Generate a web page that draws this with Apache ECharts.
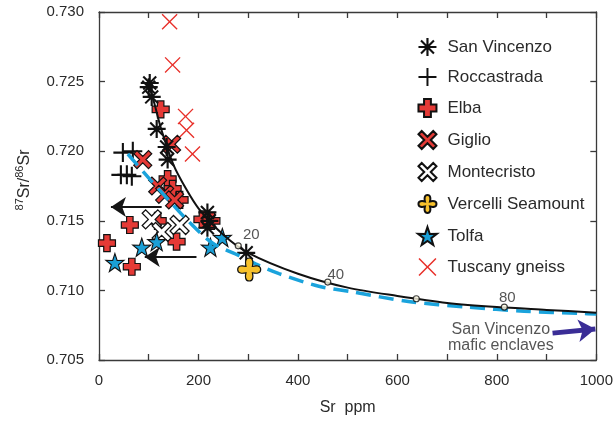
<!DOCTYPE html>
<html>
<head>
<meta charset="utf-8">
<script src="https://cdn.jsdelivr.net/npm/echarts@6/dist/echarts.min.js"></script>
<style>
  html, body { margin: 0; padding: 0; background: #fff; }
  #chart { width: 616px; height: 421px; }
</style>
</head>
<body>
<div id="chart"></div>
<script>
// Sr (ppm) vs 87Sr/86Sr for each suite
const sanVincenzo = [[102,0.7249],[100,0.7246],[106,0.7239],[116,0.7216],[136,0.7203],[138,0.7194],[218,0.7156],[222,0.7150],[218,0.7145],[296,0.7127]];
const roccastrada = [[48,0.7199],[68,0.7200],[44,0.7183],[56,0.7183],[66,0.7182]];
const elba = [[124,0.7230],[138,0.7180],[148,0.7173],[162,0.7165],[62,0.7147],[16,0.7134],[66,0.7117],[118,0.7150],[156,0.7135],[208,0.7151],[226,0.7150]];
const giglio = [[146,0.7205],[88,0.7194],[118,0.7175],[132,0.7169],[152,0.7165]];
const montecristo = [[106,0.7151],[126,0.7142],[162,0.7147]];
const vercelli = [[302,0.7115]];
const tolfa = [[86,0.7131],[116,0.7135],[32,0.7120],[224,0.7131],[248,0.7138]];
const tuscanyGneiss = [[142,0.7293],[148,0.7262],[174,0.7225],[176,0.7215],[188,0.7198]];

// mixing curves
const mixingCurve = [[98,0.7250],[110,0.7236],[125,0.7216],[150,0.7190],[175,0.7173],[200,0.7159],[250,0.7140],[300,0.7127],[400,0.7112],[500,0.7102],[600,0.7096],[700,0.7091],[800,0.7088],[900,0.7086],[1000,0.7084]];
const dashedCurve = [[58,0.7198],[102,0.7180],[145,0.7163],[179,0.7150],[228,0.7134],[282,0.7125],[315,0.7119],[362,0.7112],[442,0.7103],[508,0.7099],[622,0.7092],[742,0.7088],[855,0.7085],[968,0.70835],[1000,0.70830]];
const mixPoints = [[280,0.7132],[460,0.7106],[638,0.7094],[815,0.7088]];
const mixLabels = ['20','40','','80'];

// arrows
const blackArrows = [[[126,0.7160],[24,0.7160]],[[196,0.7124],[92,0.7124]]];
const enclaveArrow = [[912,0.70693],[998,0.70722]];
const enclaveText = [808,0.70660];
const enclaveName = 'San Vincenzo\nmafic enclaves';

const xTicks = { min: 0, max: 1000, step: 100, labelStep: 200 };
const yTicks = { min: 0.705, max: 0.730, step: 0.005 };

const FONT = '"Liberation Sans", Arial, sans-serif';
const TXT = '#2a2a2a';
const AX = '#3a3a3a';

// symbol outlines
const P_ASTER = 'path://M0,44H100V56H0Z M44,0H56V100H44Z M18.2,10L90,81.8L81.8,90L10,18.2Z M81.8,10L90,18.2L18.2,90L10,81.8Z';
const P_PLUS_THIN = 'path://M0,44.5H100V55.5H0Z M44.5,0H55.5V100H44.5Z';
const P_PLUS_BOLD = 'path://M31,0H69V31H100V69H69V100H31V69H0V31H31Z';
const P_X_BOLD = 'path://M0,18L18,0L50,32L82,0L100,18L68,50L100,82L82,100L50,68L18,100L0,82L32,50Z';
const P_X_THIN = 'path://M0,6L6,0L50,44L94,0L100,6L56,50L100,94L94,100L50,56L6,100L0,94L44,50Z';
const P_CLOVER = 'path://M50,0C68,0 68,20 64,36C80,32 100,32 100,50C100,68 80,68 64,64C68,80 68,100 50,100C32,100 32,80 36,64C20,68 0,68 0,50C0,32 20,32 36,36C32,20 32,0 50,0Z';
const P_STAR = 'path://M50,0L61.8,35L97.6,34.5L69,56.5L79.4,90.5L50,70L20.6,90.5L31,56.5L2.4,34.5L38.2,35Z';

function scatter(name, data, symbol, size, fill, border, bw, z) {
  return {
    name, type: 'scatter', data, symbol, symbolSize: size, z: z || 3,
    itemStyle: { color: fill, borderColor: border, borderWidth: bw, opacity: 1 },
    emphasis: { disabled: true }
  };
}

const chart = echarts.init(document.getElementById('chart'), null, { renderer: 'canvas' });

const axisCommon = {
  type: 'value',
  axisLine: { show: true, onZero: false, lineStyle: { color: AX, width: 1.3 } },
  axisTick: { show: true, inside: true, length: 6, lineStyle: { color: AX, width: 1.3 } },
  splitLine: { show: false }
};

const option = {
  animation: false,
  backgroundColor: '#fff',
  textStyle: { fontFamily: FONT },
  grid: { left: 99, right: 17, top: 12, bottom: 60 },
  xAxis: [
    Object.assign({}, axisCommon, {
      position: 'bottom', min: xTicks.min, max: xTicks.max, interval: xTicks.step,
      axisLabel: { fontSize: 15, color: TXT, margin: 13, fontFamily: FONT,
        formatter: v => (v % xTicks.labelStep === 0 ? String(v) : '') },
      name: 'Sr  ppm', nameLocation: 'middle', nameGap: 40,
      nameTextStyle: { fontSize: 16, color: TXT, fontFamily: FONT }
    }),
    Object.assign({}, axisCommon, {
      position: 'top', min: xTicks.min, max: xTicks.max, interval: xTicks.step,
      axisLabel: { show: false }
    })
  ],
  yAxis: [
    Object.assign({}, axisCommon, {
      position: 'left', min: yTicks.min, max: yTicks.max, interval: yTicks.step,
      axisLabel: { fontSize: 15, color: TXT, margin: 15, fontFamily: FONT,
        formatter: v => v.toFixed(3) },
      name: '{sup|87}{b|Sr/}{sup|86}{b|Sr}', nameLocation: 'middle', nameGap: 66, nameRotate: 90,
      nameTextStyle: {
        color: TXT, fontFamily: FONT, padding: [0, 0, 0, 12],
        rich: {
          b: { fontSize: 16, color: TXT, fontFamily: FONT, verticalAlign: 'bottom' },
          sup: { fontSize: 11, color: TXT, fontFamily: FONT, verticalAlign: 'top', padding: [0, 0, 8, 0] }
        }
      }
    }),
    Object.assign({}, axisCommon, {
      position: 'right', min: yTicks.min, max: yTicks.max, interval: yTicks.step,
      axisLabel: { show: false }
    })
  ],
  legend: {
    orient: 'vertical', left: 412, top: 33,
    itemWidth: 30, itemHeight: 18, itemGap: 12,
    textStyle: { fontSize: 17, color: TXT, fontFamily: FONT },
    data: ['San Vincenzo','Roccastrada','Elba','Giglio','Montecristo','Vercelli Seamount','Tolfa','Tuscany gneiss']
  },
  series: [
    scatter('Tuscany gneiss', tuscanyGneiss, P_X_THIN, 16, '#e8302a', '#e8302a', 0, 3),
    scatter('Roccastrada', roccastrada, P_PLUS_THIN, 19, '#111', '#111', 0, 3),
    scatter('Elba', elba, P_PLUS_BOLD, 17, '#e53a36', '#111', 1.2, 4),
    scatter('Giglio', giglio, P_X_BOLD, 18, '#e53a36', '#111', 1.2, 4),
    scatter('Montecristo', montecristo, P_X_BOLD, 19, '#ffffff', '#111', 1.3, 4),
    scatter('Tolfa', tolfa, P_STAR, 18, '#1a9fd6', '#111', 1.1, 4),
    scatter('San Vincenzo', sanVincenzo, P_ASTER, 18, '#111', '#111', 0, 5),
    {
      name: 'dashed', type: 'line', data: dashedCurve, smooth: 0.3, showSymbol: false, z: 6,
      lineStyle: { color: '#1aa3dc', width: 3.5, type: [15, 8] }, emphasis: { disabled: true }
    },
    {
      name: 'mixing', type: 'line', data: mixingCurve, smooth: 0.3, showSymbol: false, z: 7,
      lineStyle: { color: '#111', width: 2 }, emphasis: { disabled: true }
    },
    scatter('Vercelli Seamount', vercelli, P_CLOVER, 23, '#f7c12c', '#111', 1.2, 8),
    {
      name: 'mixTicks', type: 'scatter', z: 9, symbol: 'circle', symbolSize: 6,
      itemStyle: { color: '#fffbe6', borderColor: '#111', borderWidth: 1.2 },
      data: mixPoints.map((p, i) => ({
        value: p,
        label: {
          show: mixLabels[i] !== '', formatter: mixLabels[i], position: 'top',
          offset: [[13, 5], [8, 9], [0, 0], [3, 7]][i],
          fontSize: 15, color: TXT, fontFamily: FONT
        }
      })),
      emphasis: { disabled: true }
    },
    {
      name: 'arrows', type: 'lines', coordinateSystem: 'cartesian2d', z: 9,
      symbol: ['none', 'arrow'], symbolSize: 15,
      lineStyle: { color: '#151515', width: 2, opacity: 1, curveness: 0 },
      data: blackArrows.map(c => ({ coords: c })), emphasis: { disabled: true }
    },
    {
      name: 'enclaveArrow', type: 'lines', coordinateSystem: 'cartesian2d', z: 9,
      symbol: ['none', 'arrow'], symbolSize: 17,
      lineStyle: { color: '#3a2d96', width: 5, opacity: 1, curveness: 0 },
      data: [{ coords: enclaveArrow }], emphasis: { disabled: true }
    },
    {
      name: 'enclaveText', type: 'scatter', z: 9, symbol: 'circle', symbolSize: 1,
      itemStyle: { color: 'rgba(0,0,0,0)' },
      data: [{ value: enclaveText }],
      label: { show: true, position: 'inside', formatter: enclaveName, fontSize: 16,
        lineHeight: 16, align: 'center', verticalAlign: 'middle', color: TXT, fontFamily: FONT },
      emphasis: { disabled: true }
    }
  ]
};

chart.setOption(option);
</script>
</body>
</html>
